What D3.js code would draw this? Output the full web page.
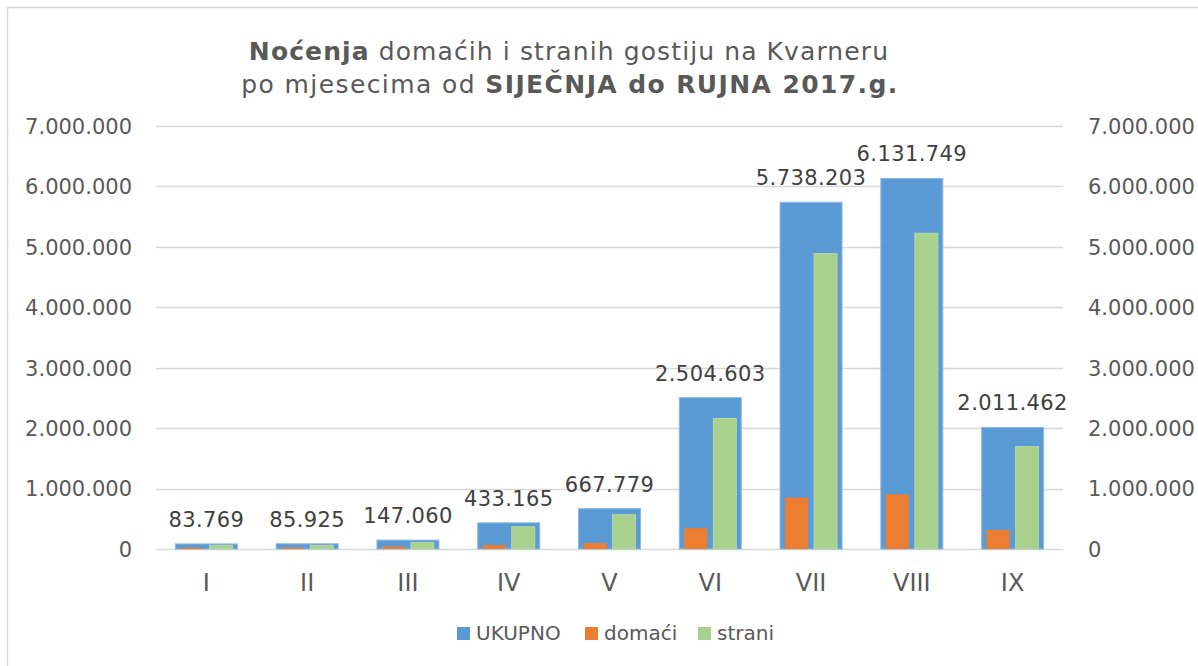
<!DOCTYPE html>
<html>
<head>
<meta charset="utf-8">
<script src="https://cdn.jsdelivr.net/npm/d3@7"></script>
<style>
  body { margin: 0; background: #fff; }
  text { font-family: "DejaVu Sans", Verdana, sans-serif; }
</style>
</head>
<body>
<div id="chart"></div>
<script>
const W = 1198, H = 666;

// data
const months = ["I", "II", "III", "IV", "V", "VI", "VII", "VIII", "IX"];
const ukupno = [83769, 85925, 147060, 433165, 667779, 2504603, 5738203, 6131749, 2011462];
const domaci = [22000, 25000, 42000, 65000, 100000, 345000, 850000, 905000, 315000];
const strani = [62000, 61000, 105000, 368000, 568000, 2160000, 4888000, 5227000, 1696000];
const yTicks = [0, 1000000, 2000000, 3000000, 4000000, 5000000, 6000000, 7000000];
const seriesNames = ["UKUPNO", "domaći", "strani"];
const colors = ["#5B9BD5", "#ED7D31", "#A9D18E"];

const hr = d3.formatLocale({ decimal: ",", thousands: ".", grouping: [3], currency: ["", " kn"] });
const fmt = hr.format(",d");

const svg = d3.select("#chart").append("svg").attr("width", W).attr("height", H);

// chart border
svg.append("rect")
  .attr("x", 7.5).attr("y", 7.5)
  .attr("width", W + 20).attr("height", H + 20)
  .attr("fill", "#fff").attr("stroke", "#D9D9D9").attr("stroke-width", 1.5);

const plotL = 156, plotR = 1063, plotT = 126, plotB = 549;

const x = d3.scaleBand().domain(months).range([plotL, plotR])
  .paddingInner(0.385).paddingOuter(0.1925);
const sub = d3.scaleBand().domain(["domaći", "strani"])
  .range([x.bandwidth() * 0.08, x.bandwidth() * 0.92]).paddingInner(0.207);
const y = d3.scaleLinear().domain([0, 7000000]).range([plotB, plotT]);

// gridlines
svg.append("g").selectAll("line").data(yTicks).join("line")
  .attr("x1", plotL).attr("x2", plotR)
  .attr("y1", d => Math.round(y(d)) + 0.5).attr("y2", d => Math.round(y(d)) + 0.5)
  .attr("stroke", "#D9D9D9").attr("stroke-width", d => d === 0 ? 1.5 : 1.3);

// axes
const yl = svg.append("g").attr("transform", `translate(${plotL - 21},0)`)
  .call(d3.axisLeft(y).tickValues(yTicks).tickSize(0).tickFormat(fmt));
const yr = svg.append("g").attr("transform", `translate(${plotR + 22},0)`)
  .call(d3.axisRight(y).tickValues(yTicks).tickSize(0).tickFormat(fmt));
[yl, yr].forEach(g => {
  g.select(".domain").remove();
  g.selectAll("text").attr("font-size", 21).attr("fill", "#595959")
    .attr("font-family", "DejaVu Sans").attr("dy", "0.35em");
});

const xa = svg.append("g").attr("transform", `translate(0,${plotB + 20})`)
  .call(d3.axisBottom(x).tickSize(0));
xa.select(".domain").remove();
xa.selectAll("text").attr("font-size", 24).attr("fill", "#595959")
  .attr("font-family", "DejaVu Sans").attr("dy", "0.78em");

// bars
const groups = svg.append("g").selectAll("g").data(months).join("g")
  .attr("transform", d => `translate(${x(d)},0)`);

groups.append("rect")
  .attr("x", 0).attr("width", x.bandwidth())
  .attr("y", (d, i) => y(ukupno[i])).attr("height", (d, i) => y(0) - y(ukupno[i]))
  .attr("fill", colors[0]).attr("stroke", "#8DB8E2").attr("stroke-width", 1);

groups.append("rect")
  .attr("x", sub("domaći")).attr("width", sub.bandwidth())
  .attr("y", (d, i) => y(domaci[i])).attr("height", (d, i) => y(0) - y(domaci[i]))
  .attr("fill", colors[1]);

groups.append("rect")
  .attr("x", sub("strani")).attr("width", sub.bandwidth())
  .attr("y", (d, i) => y(strani[i])).attr("height", (d, i) => y(0) - y(strani[i]))
  .attr("fill", colors[2]).attr("stroke", "#BEDDA8").attr("stroke-width", 0.8);

// value labels
groups.append("text")
  .attr("x", x.bandwidth() / 2)
  .attr("y", (d, i) => y(ukupno[i]) - 17)
  .attr("text-anchor", "middle")
  .attr("font-size", 21).attr("fill", "#404040").attr("letter-spacing", 0.4)
  .text((d, i) => fmt(ukupno[i]));

// title
const title = svg.append("text").attr("text-anchor", "middle")
  .attr("x", 569).attr("font-size", 25).attr("fill", "#595959");
const l1 = title.append("tspan").attr("x", 569).attr("y", 60).attr("letter-spacing", 1.1);
l1.append("tspan").attr("font-weight", "bold").text("Noćenja");
l1.append("tspan").text(" domaćih i stranih gostiju na Kvarneru");
const l2 = title.append("tspan").attr("x", 570).attr("y", 93).attr("letter-spacing", 1.4);
l2.append("tspan").text("po mjesecima od ");
l2.append("tspan").attr("font-weight", "bold").text("SIJEČNJA do RUJNA 2017.g.");

// legend
const legendX = [457, 585, 698];
const leg = svg.append("g").selectAll("g").data(seriesNames).join("g")
  .attr("transform", (d, i) => `translate(${legendX[i]},627)`);
leg.append("rect").attr("width", 13).attr("height", 13)
  .attr("fill", (d, i) => colors[i]);
leg.append("text").attr("x", 19).attr("y", 13)
  .attr("font-size", 20).attr("fill", "#595959").text(d => d);
</script>
</body>
</html>
